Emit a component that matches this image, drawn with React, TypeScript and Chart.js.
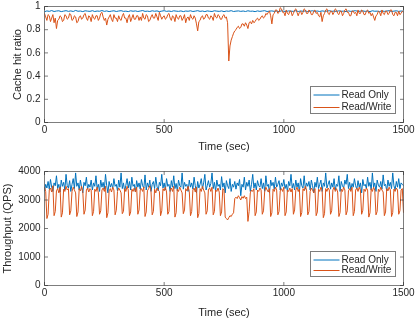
import React, { useEffect, useRef } from "react";
import { Chart, registerables } from "chart.js";

Chart.register(...registerables);

// ---------- data ----------
const CACHE_RO_STEP_SEC = 10;
const CACHE_RW_STEP_SEC = 5;
const QPS_STEP_SEC = 5;
const X_TICKS = [0, 500, 1000, 1500];
const CACHE_TICKS = [0, 0.2, 0.4, 0.6, 0.8, 1];
const QPS_TICKS = [0, 1000, 2000, 3000, 4000];
const SERIES_NAMES = ["Read Only", "Read/Write"];
const X_TITLE = "Time (sec)";
const CACHE_TITLE = "Cache hit ratio";
const QPS_TITLE = "Throughput (QPS)";

const cacheReadOnly = [
  0.955, 0.962, 0.958, 0.965, 0.957, 0.961, 0.963, 0.956, 0.96, 0.964,
  0.958, 0.962, 0.957, 0.966, 0.959, 0.961, 0.956, 0.963, 0.96, 0.958,
  0.964, 0.957, 0.961, 0.959, 0.965, 0.958, 0.962, 0.956, 0.96, 0.963,
  0.957, 0.961, 0.964, 0.958, 0.96, 0.956, 0.963, 0.959, 0.962, 0.957,
  0.961, 0.965, 0.958, 0.96, 0.957, 0.963, 0.959, 0.962, 0.956, 0.96,
  0.964, 0.958, 0.961, 0.957, 0.963, 0.96, 0.958, 0.962, 0.956, 0.961,
  0.959, 0.963, 0.957, 0.96, 0.964, 0.958, 0.961, 0.956, 0.962, 0.959,
  0.957, 0.963, 0.96, 0.958, 0.962, 0.956, 0.961, 0.959, 0.964, 0.957,
  0.96, 0.962, 0.958, 0.961, 0.957, 0.963, 0.959, 0.96, 0.956, 0.962,
  0.958, 0.961, 0.964, 0.957, 0.96, 0.962, 0.958, 0.961, 0.956, 0.963,
  0.959, 0.957, 0.962, 0.96, 0.958, 0.964, 0.957, 0.961, 0.959, 0.962,
  0.956, 0.96, 0.963, 0.958, 0.961, 0.957, 0.962, 0.959, 0.96, 0.964,
  0.958, 0.961, 0.957, 0.963, 0.959, 0.96, 0.956, 0.962, 0.958, 0.961,
  0.964, 0.957, 0.96, 0.962, 0.958, 0.961, 0.956, 0.963, 0.959, 0.96,
  0.957, 0.962, 0.958, 0.961, 0.964, 0.957, 0.96, 0.963, 0.958, 0.961,
  0.959,
];

const cacheReadWrite = [
  0.94, 0.91, 0.88, 0.93, 0.92, 0.87, 0.9, 0.93, 0.86, 0.9, 0.81, 0.88, 0.89, 0.92, 0.91, 0.87, 0.88, 0.93, 0.92, 0.89,
  0.9, 0.94, 0.93, 0.88, 0.89, 0.92, 0.91, 0.86, 0.87, 0.91, 0.92, 0.89, 0.9, 0.93, 0.94, 0.9, 0.88, 0.92, 0.91, 0.87,
  0.93, 0.9, 0.89, 0.92, 0.92, 0.88, 0.9, 0.94, 0.95, 0.91, 0.88, 0.9, 0.84, 0.89, 0.91, 0.93, 0.89, 0.87, 0.93, 0.9,
  0.9, 0.87, 0.92, 0.89, 0.88, 0.92, 0.94, 0.9, 0.9, 0.86, 0.91, 0.93, 0.87, 0.9, 0.93, 0.89, 0.89, 0.92, 0.92, 0.88,
  0.91, 0.88, 0.94, 0.9, 0.89, 0.93, 0.92, 0.87, 0.88, 0.91, 0.93, 0.9, 0.9, 0.94, 0.91, 0.88, 0.95, 0.92, 0.89, 0.91,
  0.92, 0.89, 0.9, 0.93, 0.94, 0.9, 0.88, 0.92, 0.91, 0.87, 0.93, 0.9, 0.89, 0.92, 0.92, 0.88, 0.9, 0.93, 0.86, 0.9,
  0.91, 0.88, 0.93, 0.9, 0.89, 0.92, 0.9, 0.85, 0.79, 0.87, 0.88, 0.91, 0.92, 0.89, 0.9, 0.93, 0.93, 0.9, 0.89, 0.92,
  0.91, 0.88, 0.94, 0.91, 0.9, 0.93, 0.92, 0.89, 0.89, 0.92, 0.93, 0.9, 0.91, 0.86, 0.53, 0.66, 0.71, 0.74, 0.77, 0.79,
  0.8, 0.82, 0.83, 0.81, 0.82, 0.85, 0.85, 0.83, 0.86, 0.84, 0.81, 0.86, 0.87, 0.85, 0.88, 0.86, 0.87, 0.89, 0.9, 0.88,
  0.89, 0.91, 0.92, 0.9, 0.91, 0.94, 0.93, 0.95, 0.96, 0.92, 0.85, 0.93, 0.94, 0.97, 0.97, 0.94, 0.95, 0.99, 0.98, 0.95,
  0.95, 0.92, 0.97, 0.94, 0.93, 0.96, 0.96, 0.92, 0.94, 0.97, 0.98, 0.95, 0.92, 0.95, 0.96, 0.93, 0.95, 0.98, 0.97, 0.94,
  0.94, 0.97, 0.96, 0.93, 0.93, 0.96, 0.97, 0.94, 0.95, 0.92, 0.91, 0.95, 0.87, 0.92, 0.94, 0.97, 0.98, 0.94, 0.93, 0.96,
  0.96, 0.93, 0.95, 0.98, 0.97, 0.94, 0.93, 0.96, 0.96, 0.92, 0.94, 0.97, 0.98, 0.95, 0.95, 0.92, 0.92, 0.96, 0.96, 0.94,
  0.95, 0.92, 0.97, 0.94, 0.94, 0.97, 0.96, 0.93, 0.93, 0.96, 0.97, 0.94, 0.95, 0.92, 0.94, 0.91, 0.88, 0.92, 0.93, 0.96,
  0.95, 0.92, 0.97, 0.94, 0.93, 0.96, 0.96, 0.93, 0.94, 0.97, 0.97, 0.93, 0.92, 0.95, 0.95, 0.92, 0.96, 0.93, 0.94, 0.96,
  0.95,
];

const qpsReadOnly = [
  3300, 3550, 3420, 3650, 3380, 3720, 3450, 3300, 3600, 3500, 3850, 3400, 3550, 3280, 3700, 3480, 3620, 3350, 3900, 3500,
  3420, 3680, 3300, 3550, 3750, 3400, 3950, 3480, 3600, 3350, 3700, 3450, 3250, 3620, 3500, 3800, 3380, 3550, 3450, 3700,
  3350, 3600, 3480, 3850, 3400, 3550, 3300, 3700, 3450, 3620, 3380, 3900, 3500, 3250, 3650, 3450, 3580, 3400, 3750, 3480,
  3550, 3320, 3700, 3450, 3950, 3400, 3600, 3300, 3520, 3750, 3420, 3650, 3350, 3800, 3480, 3550, 3280, 3680, 3450, 3600,
  3380, 3720, 3500, 3420, 3880, 3350, 3600, 3450, 3700, 3300, 3550, 3650, 3400, 3800, 3480, 3320, 3620, 3500, 3900, 3420,
  3600, 3350, 3750, 3480, 3550, 3300, 3680, 3450, 3850, 3400, 3580, 3320, 3700, 3500, 3450, 3950, 3380, 3620, 3480, 3550,
  3300, 3700, 3450, 3600, 3380, 3800, 3500, 3250, 3650, 3420, 3550, 3750, 3400, 3600, 3900, 3350, 3500, 3680, 3450, 3580,
  3950, 3400, 3620, 3300, 3700, 3480, 3550, 3350, 3820, 3450, 3600, 3250, 3680, 3500, 3400, 3750, 3300, 3550, 3450, 3650,
  3380, 3600, 3500, 3720, 3150, 3550, 3450, 3800, 3350, 3620, 3480, 3700, 3300, 3550, 3900, 3420, 3600, 3350, 3680, 3500,
  3450, 3750, 3400, 3600, 3300, 3850, 3480, 3550, 3250, 3700, 3500, 3620, 3380, 3800, 3450, 3550, 3680, 3350, 3600, 3480,
  3720, 3400, 3550, 3300, 3650, 3500, 3900, 3420, 3580, 3350, 3700, 3450, 3600, 3280, 3750, 3500, 3420, 3850, 3380, 3600,
  3480, 3650, 3350, 3700, 3500, 3250, 3620, 3450, 3800, 3400, 3550, 3700, 3300, 3600, 3480, 3950, 3420, 3550, 3680, 3380,
  3600, 3450, 3750, 3350, 3550, 3480, 3850, 3300, 3650, 3500, 3420, 3700, 3550, 3900, 3400, 3620, 3350, 3580, 3450, 3750,
  3500, 3380, 3680, 3450, 3600, 3250, 3720, 3500, 3550, 3400, 3800, 3480, 3620, 3350, 3950, 3450, 3600, 3300, 3700, 3520,
  3450, 3650, 3380, 3880, 3500, 3550, 3320, 3700, 3480, 3620, 3400, 3950, 3500, 3350, 3650, 3450, 3750, 3400, 3600, 3550,
  3500,
];

const qpsReadWrite = [
  3450, 3300, 2350, 2500, 3350, 3420, 3280, 3500, 2450, 2600, 3320, 3400, 3250, 3450, 2400, 2550, 3380, 3300, 3480, 3350,
  3400, 2480, 2620, 3300, 3450, 3350, 3250, 2420, 2580, 3400, 3320, 3480, 3300, 2500, 2650, 3350, 3420, 3280, 3400, 3350,
  2450, 2600, 3380, 3300, 3450, 3250, 2500, 2620, 3350, 3420, 3300, 3480, 2380, 2550, 3320, 3400, 3280, 3450, 3350, 2480,
  2640, 3300, 3420, 3350, 3250, 2520, 2600, 3400, 3300, 3480, 3350, 2450, 2580, 3380, 3300, 3420, 3280, 3450, 2500, 2650,
  3350, 3400, 3300, 3450, 2420, 2580, 3320, 3400, 3500, 3300, 2480, 2600, 3380, 3250, 3420, 3350, 3300, 2450, 2620, 3400,
  3320, 3450, 3280, 2500, 2600, 3350, 3420, 3300, 3480, 2400, 2550, 3380, 3300, 3450, 3350, 3250, 2520, 2650, 3400, 3320,
  3480, 3300, 2450, 2600, 3350, 3420, 3280, 3450, 2380, 2520, 3400, 3300, 3480, 3350, 3250, 2500, 2620, 3380, 3420, 3300,
  3450, 2480, 2600, 3350, 3300, 3420, 3280, 2450, 2580, 3400, 3350, 2400, 2350, 2300, 2380, 2450, 2420, 2500, 2550, 3050,
  3100, 3050, 3150, 3080, 3000, 3120, 3060, 3150, 3050, 3100, 2250, 2600, 3250, 3350, 3300, 3400, 2450, 2580, 3350, 3300,
  3420, 3350, 2500, 2620, 3300, 3450, 3350, 3280, 3400, 2420, 2550, 3380, 3300, 3450, 3350, 2480, 2600, 3320, 3400, 3300,
  3450, 2450, 2580, 3350, 3300, 3420, 3280, 3400, 2500, 2650, 3350, 3450, 3300, 3380, 2420, 2560, 3400, 3320, 3480, 3350,
  2480, 2600, 3300, 3420, 3350, 3250, 3400, 2450, 2580, 3380, 3300, 3450, 3350, 2380, 2520, 3400, 3300, 3420, 3350, 2500,
  2620, 3350, 3450, 3300, 3400, 3280, 2420, 2560, 3380, 3300, 3450, 3350, 2480, 2620, 3320, 3400, 3300, 3450, 2450, 2600,
  3350, 3420, 3300, 3450, 3350, 2500, 2640, 3380, 3300, 3420, 3350, 2400, 2550, 3400, 3300, 3450, 3350, 2480, 2600, 3380,
  3300, 3450, 3350, 3280, 2450, 2580, 3400, 3320, 3450, 3350, 2420, 2560, 3380, 3300, 3420, 3350, 2500, 2620, 3350, 3400,
  2550,
];

// ---------- styling ----------
const BLUE = "#0072BD";
const ORANGE = "#D95319";
const TEXT = "#262626";
const FRAME = "rgba(38,38,38,0.6)";
const FONT = "'Liberation Sans', Arial, Helvetica, sans-serif";

type Series = { label: string; color: string; time: number[]; values: number[]; order: number };

type PanelProps = {
  top: number;
  height: number;
  yTitle: string;
  yTicks: number[];
  yMax: number;
  series: Series[];
  padTop: number;
  xAxisHeight: number;
  yTitlePad: number;
  xTitlePad: number;
  legendH: number;
};

const framePlugin = (series: Series[], legendH: number) => ({
  id: "matlabFrame",
  afterDatasetsDraw(chart: any) {
    const { ctx, chartArea: a } = chart;
    const xs = chart.scales.x;
    const ys = chart.scales.y;
    const TL = 3.5;
    ctx.save();
    ctx.strokeStyle = FRAME;
    ctx.lineWidth = 1;
    ctx.beginPath();
    xs.ticks.forEach((t: any) => {
      const p = xs.getPixelForValue(t.value);
      ctx.moveTo(p, a.bottom);
      ctx.lineTo(p, a.bottom - TL);
      ctx.moveTo(p, a.top);
      ctx.lineTo(p, a.top + TL);
    });
    ys.ticks.forEach((t: any) => {
      const p = ys.getPixelForValue(t.value);
      ctx.moveTo(a.left, p);
      ctx.lineTo(a.left + TL, p);
      ctx.moveTo(a.right, p);
      ctx.lineTo(a.right - TL, p);
    });
    ctx.rect(a.left, a.top, a.right - a.left, a.bottom - a.top);
    ctx.stroke();

    // legend box (MATLAB style, inside lower right)
    const lw = 85;
    const lx = a.right - 8 - lw;
    const ly = a.bottom - 9 - legendH;
    ctx.fillStyle = "#ffffff";
    ctx.fillRect(lx, ly, lw, legendH);
    ctx.strokeStyle = FRAME;
    ctx.strokeRect(lx, ly, lw, legendH);
    ctx.font = `10px ${FONT}`;
    ctx.textBaseline = "middle";
    ctx.textAlign = "left";
    series.forEach((s, i) => {
      const y = ly + (i === 0 ? 8.5 : legendH - 6);
      ctx.strokeStyle = s.color;
      ctx.beginPath();
      ctx.moveTo(lx + 3, y);
      ctx.lineTo(lx + 29, y);
      ctx.stroke();
      ctx.fillStyle = TEXT;
      ctx.fillText(s.label, lx + 31, y);
    });
    ctx.restore();
  },
});

function Panel(p: PanelProps) {
  const ref = useRef<HTMLCanvasElement | null>(null);
  useEffect(() => {
    if (!ref.current) return;
    const chart = new Chart(ref.current, {
      type: "line",
      data: {
        datasets: p.series.map((s) => ({
          label: s.label,
          data: s.time.map((t, i) => ({ x: t, y: s.values[i] })),
          borderColor: s.color,
          backgroundColor: s.color,
          borderWidth: 1,
          pointRadius: 0,
          tension: 0,
          fill: false,
          order: s.order,
        })),
      },
      options: {
        responsive: false,
        animation: false,
        events: [],
        layout: { padding: { top: p.padTop, right: 11.5, bottom: 0, left: 0 } },
        plugins: { legend: { display: false }, tooltip: { enabled: false } },
        scales: {
          x: {
            type: "linear",
            min: X_TICKS[0],
            max: X_TICKS[X_TICKS.length - 1],
            grid: { display: false, drawTicks: false },
            border: { display: false },
            afterBuildTicks: (s: any) => {
              s.ticks = X_TICKS.map((v) => ({ value: v }));
            },
            afterFit: (s: any) => {
              s.height = p.xAxisHeight;
              s.paddingLeft = 0;
              s.paddingRight = 0;
            },
            ticks: {
              color: TEXT,
              font: { size: 10, family: FONT },
              padding: 1.5,
              maxRotation: 0,
              autoSkip: false,
              callback: (v: any) => String(v),
            },
            title: {
              display: true,
              text: X_TITLE,
              color: TEXT,
              font: { size: 11, family: FONT },
              padding: { top: 0, bottom: p.xTitlePad },
            },
          },
          y: {
            type: "linear",
            min: p.yTicks[0],
            max: p.yMax,
            grid: { display: false, drawTicks: false },
            border: { display: false },
            afterBuildTicks: (s: any) => {
              s.ticks = p.yTicks.map((v) => ({ value: v }));
            },
            afterFit: (s: any) => {
              s.width = 44.5;
              s.paddingTop = 0;
              s.paddingBottom = 0;
            },
            ticks: {
              color: TEXT,
              font: { size: 10, family: FONT },
              padding: 4,
              autoSkip: false,
              callback: (v: any) => String(v),
            },
            title: {
              display: true,
              text: p.yTitle,
              color: TEXT,
              font: { size: 11, family: FONT },
              padding: { top: p.yTitlePad, bottom: 0 },
            },
          },
        },
      },
      plugins: [framePlugin(p.series, p.legendH)],
    } as any);
    return () => chart.destroy();
  }, []);
  return (
    <canvas
      ref={ref}
      width={415}
      height={p.height}
      style={{ position: "absolute", left: 0, top: p.top, width: 415, height: p.height, display: "block" }}
    />
  );
}

const cacheRoTime = cacheReadOnly.map((_, i) => i * CACHE_RO_STEP_SEC);
const cacheRwTime = cacheReadWrite.map((_, i) => i * CACHE_RW_STEP_SEC);
const qpsTime = qpsReadOnly.map((_, i) => i * QPS_STEP_SEC);

export default function App() {
  const cacheSeries: Series[] = [
    { label: SERIES_NAMES[0], color: BLUE, time: cacheRoTime, values: cacheReadOnly, order: 2 },
    { label: SERIES_NAMES[1], color: ORANGE, time: cacheRwTime, values: cacheReadWrite, order: 1 },
  ];
  const qpsSeries: Series[] = [
    { label: SERIES_NAMES[0], color: BLUE, time: qpsTime, values: qpsReadOnly, order: 2 },
    { label: SERIES_NAMES[1], color: ORANGE, time: qpsTime, values: qpsReadWrite, order: 1 },
  ];
  return (
    <div style={{ position: "absolute", left: 0, top: 0, width: 415, height: 321, background: "#fff" }}>
      <Panel
        top={0}
        height={160}
        yTitle={CACHE_TITLE}
        yTicks={CACHE_TICKS}
        yMax={CACHE_TICKS[CACHE_TICKS.length - 1]}
        series={cacheSeries}
        padTop={6.5}
        xAxisHeight={37.5}
        yTitlePad={11.4}
        xTitlePad={6.4}
        legendH={27}
      />
      <Panel
        top={160}
        height={161}
        yTitle={QPS_TITLE}
        yTicks={QPS_TICKS}
        yMax={QPS_TICKS[QPS_TICKS.length - 1]}
        series={qpsSeries}
        padTop={11.5}
        xAxisHeight={35.5}
        yTitlePad={1.4}
        xTitlePad={1.9}
        legendH={25}
      />
    </div>
  );
}
